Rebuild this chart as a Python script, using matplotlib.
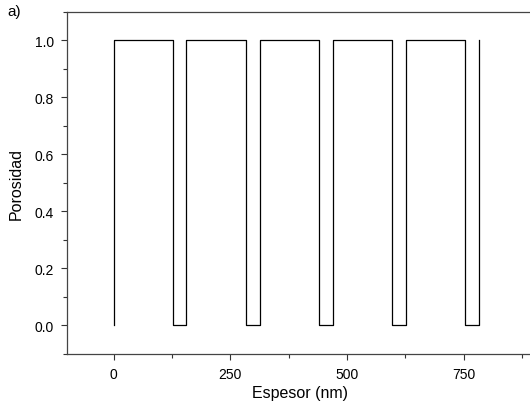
import numpy as np
import matplotlib
matplotlib.use("Agg")
import matplotlib.pyplot as plt
from matplotlib.ticker import MultipleLocator, FormatStrFormatter

plt.rcParams['font.family'] = ['Liberation Sans', 'DejaVu Sans']

# Layer interfaces along the film thickness (nm)
interfaces = [0, 127, 156, 284, 313, 439, 469, 596, 626, 753, 782]
# Porosity level before the first interface, in each layer, and after the last one
levels = [0, 1, 0, 1, 0, 1, 0, 1, 0, 1, 0, 1]

x_pts, y_pts = [], []
for i, b in enumerate(interfaces):
    x_pts += [b, b]
    y_pts += [levels[i], levels[i + 1]]

fig = plt.figure(figsize=(5.3, 4.1), dpi=100)
ax = fig.add_axes([67 / 530, 55.3 / 410, 466.7 / 530, 341.7 / 410])

ax.plot(x_pts, y_pts, color='black', linewidth=0.9)

ax.set_xlim(-100, 900)
ax.set_ylim(-0.1, 1.1)
ax.xaxis.set_major_locator(MultipleLocator(250))
ax.xaxis.set_minor_locator(MultipleLocator(125))
ax.yaxis.set_major_locator(MultipleLocator(0.2))
ax.yaxis.set_minor_locator(MultipleLocator(0.1))
ax.yaxis.set_major_formatter(FormatStrFormatter('%.1f'))

ax.tick_params(which='major', direction='out', length=4, width=0.8, labelsize=10,
               colors='#333333', labelcolor='black', pad=5.5)
ax.tick_params(which='minor', direction='out', length=3, width=0.8, colors='#333333')
ax.tick_params(axis='x', which='both', top=False)
ax.tick_params(axis='y', which='both', right=False)

for side in ['left', 'bottom', 'top']:
    ax.spines[side].set_color('#444444')
    ax.spines[side].set_linewidth(0.9)
ax.spines['right'].set_visible(False)

ax.set_xlabel('Espesor (nm)', fontsize=11.5, labelpad=3)
ax.set_ylabel('Porosidad', fontsize=11.5, labelpad=8)

fig.text(7 / 530, 1 - 16 / 410, 'a)', fontsize=11, va='baseline', ha='left')

fig.savefig('out.png', dpi=100)
